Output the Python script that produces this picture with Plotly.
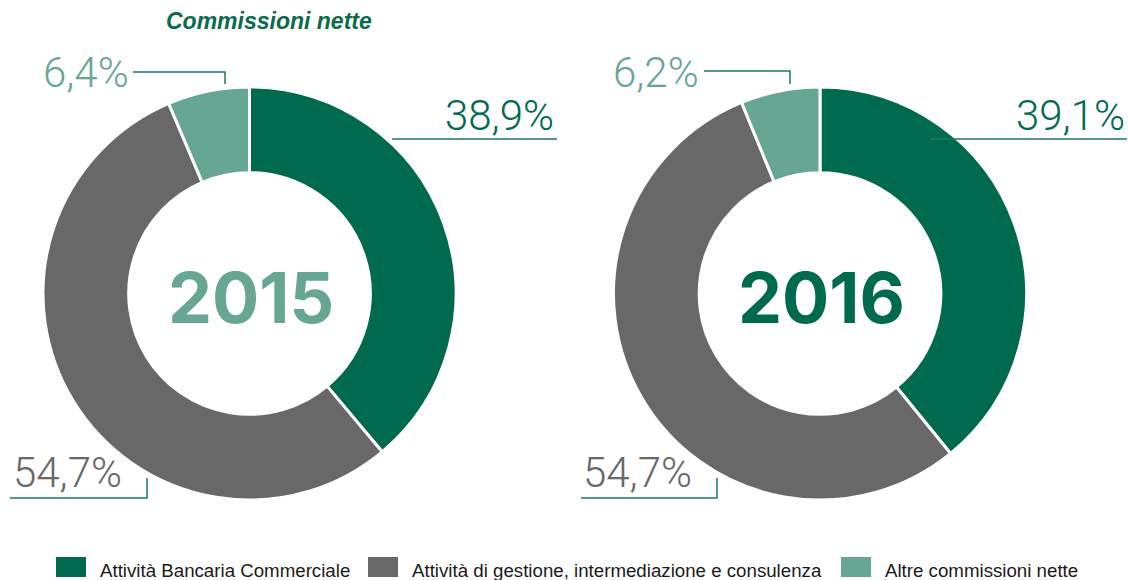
import plotly.graph_objects as go

# ---- data ----
categories = ["Attività Bancaria Commerciale",
              "Attività di gestione, intermediazione e consulenza",
              "Altre commissioni nette"]
years = ["2015", "2016"]
values_2015 = [38.9, 54.7, 6.4]
values_2016 = [39.1, 54.7, 6.2]
title_text = "Commissioni nette"

# ---- style ----
W, H = 1129, 580
DARK = "#006a4e"
GRAY = "#686868"
LIGHT = "#68a694"
LINE = "#1f7a5c"
colors = [DARK, GRAY, LIGHT]
year_colors = [LIGHT, DARK]
LABEL_FONT = "Roboto, Lato, 'Liberation Sans', sans-serif"


def px(x):
    return x / W


def py(y):
    return 1 - y / H


def fmt(v):
    return f"{v:.1f}".replace(".", ",") + "%"


fig = go.Figure()

R = 206.5
CY = 293.5
centers = [249.5, 820.0]
series = [values_2015, values_2016]

for cx, vals in zip(centers, series):
    fig.add_trace(go.Pie(
        labels=categories, values=vals, sort=False, direction="clockwise",
        rotation=0, hole=0.585, textinfo="none", hoverinfo="label+percent",
        marker=dict(colors=colors, line=dict(color="white", width=3)),
        domain=dict(x=[px(cx - R), px(cx + R)], y=[py(CY + R), py(CY - R)]),
        showlegend=False,
    ))

annotations = []
shapes = []

# title
annotations.append(dict(x=px(269), y=py(21), xref="paper", yref="paper",
                        text=f"<b><i>{title_text}</i></b>", showarrow=False,
                        font=dict(family="'Liberation Sans', Arial, sans-serif",
                                  size=23, color="#0b6b4b"),
                        xanchor="center", yanchor="middle"))

# year labels in donut centres
for cx, yr, col in zip(centers, years, year_colors):
    annotations.append(dict(x=px(cx + 1), y=py(CY + 4), xref="paper", yref="paper",
                            text=f"<b>{yr}</b>", showarrow=False,
                            font=dict(family="Inter, Roboto, 'Liberation Sans', sans-serif",
                                      size=70, color=col, weight=900),
                            xanchor="center", yanchor="middle"))

# label placement (layout, per donut): [green, gray, light]
label_layout = [
    # (x, y, xanchor)
    [(556, 116, "right"), (11, 472.5, "left"), (131, 72.5, "right")],
    [(1127, 116, "right"), (581, 472.5, "left"), (701, 72, "right")],
]
label_colors = [DARK, GRAY, LIGHT]
for vals, lay in zip(series, label_layout):
    for v, (x, y, xa), col in zip(vals, lay, label_colors):
        annotations.append(dict(x=px(x), y=py(y), xref="paper", yref="paper",
                                text=fmt(v), showarrow=False,
                                font=dict(family=LABEL_FONT, size=42, color=col, weight=300),
                                xanchor=xa, yanchor="middle"))

# connector lines
paths = [
    [(392, 139), (557, 139)],
    [(10, 498), (147, 498), (147, 478)],
    [(133, 72), (225, 72), (225, 84)],
    [(930, 139), (1127, 139)],
    [(581, 498), (717, 498), (717, 478)],
    [(704, 71), (790, 71), (790, 84)],
]
for pts in paths:
    d = "M " + " L ".join(f"{px(x)},{py(y)}" for x, y in pts)
    shapes.append(dict(type="path", path=d, xref="paper", yref="paper",
                       line=dict(color=LINE, width=1.5)))

# legend (manual)
legend_x = [56, 368, 841]
for x, cat, col in zip(legend_x, categories, colors):
    shapes.append(dict(type="rect", xref="paper", yref="paper",
                       x0=px(x), x1=px(x + 30), y0=py(577), y1=py(557),
                       fillcolor=col, line=dict(width=0)))
    annotations.append(dict(x=px(x + 42), y=py(570), xref="paper", yref="paper",
                            text=cat, showarrow=False,
                            font=dict(family="'Liberation Sans', Arial, sans-serif",
                                      size=18.7, color="#1a1a1a"),
                            xanchor="left", yanchor="middle"))

fig.update_layout(width=W, height=H, margin=dict(l=0, r=0, t=0, b=0),
                  paper_bgcolor="white", plot_bgcolor="white",
                  annotations=annotations, shapes=shapes)

fig.write_html("out.html", config={"displayModeBar": False},
               post_script="document.body.style.margin='0';document.body.style.overflow='hidden';")
